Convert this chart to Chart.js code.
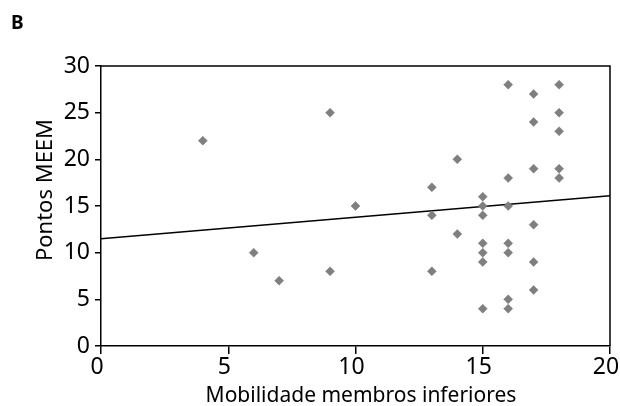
<!DOCTYPE html>
<html>
<head>
<meta charset="utf-8">
<script src="https://cdn.jsdelivr.net/npm/chart.js@4.4.1/dist/chart.umd.min.js"></script>
<style>
html, body { margin: 0; padding: 0; background: #fff; }
</style>
</head>
<body>
<canvas id="scatter-chart" width="620" height="406"></canvas>
<script>
// mobilidade dos membros inferiores x pontos MEEM
let mobilidade = [4, 6, 7, 9, 9, 10,
    13, 13, 13, 14, 14,
    15, 15, 15, 15, 15, 15, 15,
    16, 16, 16, 16, 16, 16, 16,
    17, 17, 17, 17, 17, 17,
    18, 18, 18, 18, 18];
let pontosMeem = [22, 10, 7, 25, 8, 15,
    17, 14, 8, 20, 12,
    16, 15, 14, 11, 10, 9, 4,
    28, 18, 15, 11, 10, 5, 4,
    27, 24, 19, 13, 9, 6,
    28, 25, 23, 19, 18];
// reta de regressao (extremos)
let retaX = [0, 20];
let retaY = [11.5, 16.1];
let xTicks = [0, 5, 10, 15, 20];
let yTicks = [0, 5, 10, 15, 20, 25, 30];

let fontFamily = '"Noto Sans", sans-serif';

let pontos = [];
for (let i = 0; i < mobilidade.length; i++) {
    pontos.push({x: mobilidade[i], y: pontosMeem[i]});
}
let reta = [];
for (let i = 0; i < retaX.length; i++) {
    reta.push({x: retaX[i], y: retaY[i]});
}

// moldura em volta da area do grafico + letra do painel + titulos dos eixos
let molduraPlugin = {
    id: 'moldura',
    beforeDatasetsDraw: function (chart) {
        let a = chart.chartArea;
        let ctx = chart.ctx;
        ctx.save();
        ctx.strokeStyle = '#000';
        ctx.lineWidth = 1.5;
        ctx.beginPath();
        ctx.moveTo(a.left, a.top);
        ctx.lineTo(a.right, a.top);
        ctx.lineTo(a.right, a.bottom);
        ctx.stroke();
        ctx.restore();
    },
    afterDraw: function (chart) {
        let ctx = chart.ctx;
        ctx.save();
        ctx.fillStyle = '#000';
        ctx.font = 'bold 19px ' + fontFamily;
        ctx.textBaseline = 'alphabetic';
        ctx.fillText('B', 11, 29);

        ctx.font = '21px ' + fontFamily;
        ctx.textAlign = 'center';
        ctx.fillText('Mobilidade membros inferiores', 361, 402);

        ctx.translate(46, 190);
        ctx.rotate(-Math.PI / 2);
        ctx.font = '22px ' + fontFamily;
        ctx.textBaseline = 'middle';
        ctx.fillText('Pontos MEEM', 0, 0);
        ctx.restore();
    }
};

let ctx = document.getElementById('scatter-chart').getContext('2d');
let myChart = new Chart(ctx, {
    type: 'scatter',
    data: {
        datasets: [{
            label: 'Pacientes',
            data: pontos,
            pointStyle: 'rectRot',
            pointRadius: 4.5,
            pointBackgroundColor: '#7f7f7f',
            pointBorderColor: '#7f7f7f',
            pointBorderWidth: 0.5
        }, {
            type: 'line',
            label: 'Regressao',
            data: reta,
            borderColor: '#000',
            borderWidth: 1.5,
            pointRadius: 0,
            fill: false
        }]
    },
    options: {
        responsive: false,
        animation: false,
        layout: {padding: {left: 29, top: 66, right: 10, bottom: 0}},
        plugins: {
            legend: {display: false},
            tooltip: {enabled: false}
        },
        scales: {
            x: {
                type: 'linear',
                min: 0,
                max: 20,
                afterBuildTicks: function (scale) {
                    scale.ticks = xTicks.map(v => ({value: v}));
                },
                afterFit: function (scale) {
                    scale.height = 60;
                    scale.paddingLeft = 0;
                    scale.paddingRight = 0;
                },
                grid: {drawOnChartArea: false, drawTicks: true, tickLength: 8, color: '#000', lineWidth: 1.5},
                border: {color: '#000', width: 1.5},
                ticks: {
                    color: '#000',
                    padding: 0,
                    labelOffset: -4,
                    maxRotation: 0,
                    font: {family: fontFamily, size: 23}
                }
            },
            y: {
                type: 'linear',
                min: 0,
                max: 30,
                afterBuildTicks: function (scale) {
                    scale.ticks = yTicks.map(v => ({value: v}));
                },
                afterFit: function (scale) {
                    scale.width = 72;
                    scale.paddingTop = 0;
                    scale.paddingBottom = 0;
                },
                grid: {drawOnChartArea: false, drawTicks: true, tickLength: 6, color: '#000', lineWidth: 1.5},
                border: {color: '#000', width: 1.5},
                ticks: {
                    color: '#000',
                    padding: 5,
                    font: {family: fontFamily, size: 23}
                }
            }
        }
    },
    plugins: [molduraPlugin]
});
</script>
</body>
</html>
